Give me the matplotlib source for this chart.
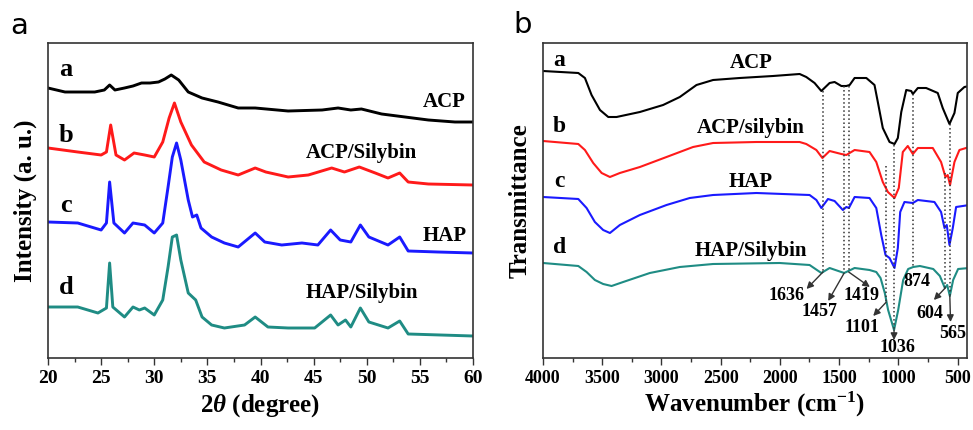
import numpy as np
import matplotlib
matplotlib.use("Agg")
import matplotlib.pyplot as plt
from matplotlib.ticker import MultipleLocator

plt.rcParams['font.family'] = ['Liberation Serif', 'DejaVu Serif']
plt.rcParams['font.weight'] = 'bold'
plt.rcParams['axes.labelweight'] = 'bold'
plt.rcParams['mathtext.fontset'] = 'custom'
plt.rcParams['mathtext.rm'] = 'Liberation Serif:bold'
plt.rcParams['mathtext.it'] = 'Liberation Serif:italic:bold'

''' XRD data (2theta, intensity a.u., curves already stacked) '''
xrd_acp = [(20, 270), (21.6, 266), (23.1, 266), (24.4, 266), (25.3, 268), (25.8, 273),
           (26.3, 268), (27.2, 270), (28.0, 272), (28.8, 275), (29.6, 275), (30.4, 276),
           (31.0, 279), (31.6, 283), (32.3, 278), (33.2, 266), (34.5, 260), (36.0, 256),
           (37.9, 250), (39.5, 250), (42.6, 247), (45.8, 248), (47.3, 250), (48.5, 248),
           (49.5, 249), (51.4, 244), (53.6, 241), (55.8, 238), (58.3, 236), (60, 236)]
xrd_acp_sil = [(20, 210), (22.8, 206), (25.0, 203), (25.5, 206), (25.9, 233), (26.4, 203),
               (27.2, 198), (28.1, 205), (29.1, 203), (30.0, 201), (30.8, 216), (31.4, 240),
               (31.9, 255), (32.5, 236), (33.5, 213), (34.7, 196), (36.3, 188), (37.9, 183),
               (39.5, 190), (40.5, 186), (42.6, 181), (44.5, 183), (46.7, 190), (47.9, 186),
               (49.3, 191), (50.8, 185), (52.0, 180), (53.1, 185), (53.9, 176), (55.8, 174),
               (60, 173)]
xrd_hap = [(20, 136), (22.8, 135), (25.0, 128), (25.5, 135), (25.8, 176), (26.2, 135),
           (27.2, 125), (28.0, 135), (29.1, 133), (30.0, 125), (30.8, 135), (31.3, 171),
           (31.7, 201), (32.1, 215), (32.5, 198), (33.2, 158), (33.6, 141), (34.0, 143),
           (34.4, 130), (35.4, 121), (36.6, 115), (37.9, 111), (39.5, 125), (40.4, 116),
           (42.0, 113), (43.9, 115), (45.4, 113), (46.6, 128), (47.5, 118), (48.5, 116),
           (49.4, 133), (50.2, 121), (52.0, 113), (53.1, 121), (53.9, 107), (56.7, 106),
           (60, 105)]
xrd_hap_sil = [(20, 51), (22.8, 51), (24.7, 45), (25.5, 50), (25.8, 95), (26.1, 51),
               (27.2, 41), (28.0, 51), (28.6, 48), (29.1, 50), (30.0, 43), (30.8, 58),
               (31.3, 91), (31.7, 121), (32.1, 123), (32.5, 98), (33.2, 65), (33.9, 58),
               (34.5, 41), (35.4, 33), (36.6, 30), (38.5, 33), (39.5, 41), (40.7, 31),
               (42.6, 30), (45.1, 30), (46.6, 43), (47.3, 33), (48.0, 38), (48.5, 31),
               (49.4, 50), (50.2, 36), (52.0, 30), (53.1, 37), (53.9, 24), (60, 22)]

xrd_names = ['ACP', 'ACP/Silybin', 'HAP', 'HAP/Silybin']
xrd_letters = ['a', 'b', 'c', 'd']
xrd_letter_y = [288, 222, 152, 71]
xrd_name_pos = [(59.3, 256), (54.7, 205), (59.4, 122), (54.8, 65)]

''' FTIR data (wavenumber, transmittance a.u., stacked) '''
ir_acp = [(4000, 287), (3702, 285), (3646, 280), (3590, 263), (3519, 248), (3449, 241),
          (3379, 241), (3182, 246), (2986, 253), (2845, 261), (2704, 273), (2564, 278),
          (2339, 280), (2058, 282), (1833, 284), (1777, 281), (1707, 275), (1650, 267),
          (1580, 275), (1538, 276), (1481, 272), (1439, 272), (1411, 273), (1369, 280),
          (1270, 280), (1201, 273), (1173, 256), (1131, 230), (1074, 216), (1032, 214),
          (1004, 220), (975, 246), (933, 268), (891, 267), (877, 264), (835, 270),
          (765, 270), (667, 265), (625, 250), (568, 234), (526, 245), (498, 265),
          (442, 271), (400, 272)]
ir_acp_sil = [(4000, 217), (3702, 214), (3646, 208), (3576, 195), (3505, 185), (3435, 181),
              (3351, 185), (3182, 191), (2957, 201), (2733, 211), (2564, 215), (2198, 216),
              (1833, 216), (1777, 214), (1692, 208), (1641, 200), (1580, 207), (1481, 204),
              (1439, 203), (1369, 208), (1243, 206), (1186, 196), (1131, 176), (1088, 166),
              (1032, 160), (996, 170), (962, 206), (920, 212), (877, 204), (835, 210),
              (709, 210), (639, 196), (602, 181), (583, 183), (563, 173), (526, 196),
              (484, 208), (400, 211)]
ir_hap = [(4000, 161), (3702, 159), (3632, 150), (3562, 136), (3492, 128), (3435, 125),
          (3351, 133), (3182, 143), (2957, 153), (2761, 160), (2564, 163), (2198, 165),
          (1749, 163), (1692, 158), (1650, 150), (1594, 159), (1538, 157), (1468, 148),
          (1439, 151), (1417, 150), (1369, 161), (1243, 160), (1186, 150), (1144, 123),
          (1108, 103), (1074, 100), (1032, 90), (1004, 110), (984, 146), (948, 156),
          (877, 155), (835, 158), (695, 156), (639, 146), (610, 130), (591, 133),
          (568, 113), (540, 130), (512, 151), (400, 153)]
ir_hap_sil = [(4000, 95), (3702, 92), (3632, 86), (3562, 78), (3492, 74), (3421, 72),
              (3323, 76), (3098, 85), (2845, 91), (2564, 94), (2002, 95), (1749, 93),
              (1650, 85), (1580, 90), (1457, 85), (1369, 90), (1243, 88), (1186, 86),
              (1150, 80), (1114, 65), (1086, 48), (1036, 28), (1001, 48), (959, 78),
              (917, 89), (874, 91), (818, 92), (705, 89), (649, 82), (607, 70), (587, 73),
              (565, 62), (537, 78), (495, 89), (400, 90)]

ir_names = ['ACP', 'ACP/silybin', 'HAP', 'HAP/Silybin']
ir_letters = ['a', 'b', 'c', 'd']
ir_letter_y = [298, 232, 176, 110]
ir_name_y = [295, 230, 176, 107]

# dotted guide lines: wavenumber, top, bottom
ir_guides = [(1636, 267, 86), (1457, 272, 86), (1419, 272, 87), (1101, 192, 56),
             (1036, 213, 28), (874, 264, 91), (604, 185, 70), (565, 234, 62)]
# peak labels: text, text pos, arrow tail, arrow head (None = no arrow)
ir_peaks = [('1636', (1944, 63), (1636, 86), (1775, 69)),
            ('1457', (1663, 47), (1457, 85), (1592, 57)),
            ('1419', (1311, 63), (1419, 86), (1240, 71)),
            ('1101', (1311, 30), (1101, 56), (1212, 42)),
            ('1036', (1010, 10), (1036, 28), (1036, 18)),
            ('874', (846, 76), None, None),
            ('604', (733, 45), (604, 70), (700, 58)),
            ('565', (537, 25), (565, 62), (559, 36))]

colors = ['black', '#ff1a1a', '#1a1aff', '#1f8c84']

fig = plt.figure(figsize=(9.73, 4.30), dpi=100)
ax1 = fig.add_axes([48 / 973, 1 - 358 / 430, 425 / 973, 315 / 430])
ax2 = fig.add_axes([543 / 973, 1 - 358 / 430, 424 / 973, 315 / 430])

''' Panel a: XRD '''
for data, c in zip([xrd_acp, xrd_acp_sil, xrd_hap, xrd_hap_sil], colors):
    d = np.array(data)
    ax1.plot(d[:, 0], d[:, 1], color=c, lw=2.1)
for lab, y in zip(xrd_letters, xrd_letter_y):
    ax1.text(21.7, y, lab, fontsize=19, ha='center', va='center')
for name, (x, y) in zip(xrd_names, xrd_name_pos):
    ax1.text(x, y, name, fontsize=15, ha='right', va='center')
ax1.set_xlim(20, 60)
ax1.set_ylim(0, 315)
ax1.xaxis.set_major_locator(MultipleLocator(5))
ax1.xaxis.set_minor_locator(MultipleLocator(2.5))
ax1.set_xlabel(r'2$\theta$ (degree)', fontsize=18, labelpad=4)
ax1.set_ylabel('Intensity (a. u.)', fontsize=18, labelpad=8)
ax1.tick_params(axis='x', labelsize=14)

''' Panel b: FTIR '''
for data, c in zip([ir_acp, ir_acp_sil, ir_hap, ir_hap_sil], colors):
    d = np.array(data)
    ax2.plot(d[:, 0], d[:, 1], color=c, lw=1.5)
for lab, y in zip(ir_letters, ir_letter_y):
    ax2.text(3860, y, lab, fontsize=17, ha='center', va='center')
for name, y in zip(ir_names, ir_name_y):
    ax2.text(2245, y, name, fontsize=15, ha='center', va='center')
for w, top, bot in ir_guides:
    ax2.plot([w, w], [top, bot], ls=':', color='#333333', lw=1.1)
for txt, tpos, tail, head in ir_peaks:
    ax2.text(tpos[0], tpos[1], txt, fontsize=13, ha='center', va='center')
    if tail is not None:
        ax2.annotate('', xy=head, xytext=tail,
                     arrowprops=dict(arrowstyle='-|>', color='#333333', lw=1,
                                     mutation_scale=10, shrinkA=0, shrinkB=0))
ax2.set_xlim(4000, 420)
ax2.set_ylim(0, 315)
ax2.xaxis.set_major_locator(MultipleLocator(500))
ax2.xaxis.set_minor_locator(MultipleLocator(250))
ax2.set_xlabel(r'Wavenumber (cm$^{-1}$)', fontsize=18, labelpad=2)
ax2.set_ylabel('Transmittance', fontsize=18, labelpad=8)
ax2.tick_params(axis='x', labelsize=13)

for ax in (ax1, ax2):
    ax.set_yticks([])
    ax.tick_params(axis='x', which='major', direction='out', length=5, width=1, color='#333333')
    ax.tick_params(axis='x', which='minor', direction='out', length=3, width=1, color='#333333')
    for lbl in ax.get_xticklabels():
        lbl.set_fontweight('bold')
    for s in ax.spines.values():
        s.set_linewidth(1.2)
        s.set_color('#333333')

fig.text(19 / 973, 1 - 26 / 430, 'a', fontsize=21, family='DejaVu Sans', weight='normal',
         ha='center', va='center')
fig.text(523 / 973, 1 - 25 / 430, 'b', fontsize=21, family='DejaVu Sans', weight='normal',
         ha='center', va='center')

fig.savefig('out.png', dpi=100)
